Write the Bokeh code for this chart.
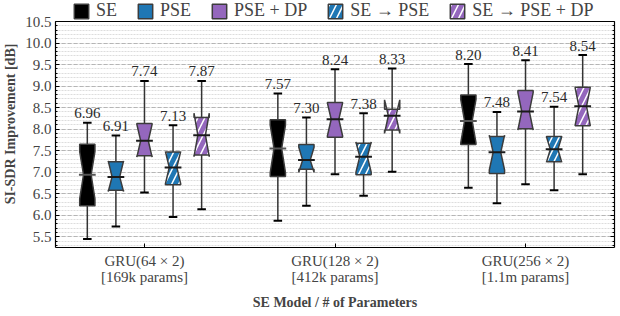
from bokeh.plotting import figure
from bokeh.models import (Range1d, FixedTicker, LinearAxis, Legend, LegendItem,
                          PrintfTickFormatter, Span)
from bokeh.core.properties import value
from bokeh.embed import file_html
from bokeh.resources import INLINE

# ---------------- data ----------------
group_labels = ["GRU(64 × 2)\n[169k params]",
                "GRU(128 × 2)\n[412k params]",
                "GRU(256 × 2)\n[1.1m params]"]
series = ["SE", "PSE", "PSE + DP", "SE → PSE", "SE → PSE + DP"]

whisker_low = {
    "SE":            [5.45, 5.87, 6.64],
    "PSE":           [5.74, 6.22, 6.28],
    "PSE + DP":      [6.53, 6.95, 6.72],
    "SE → PSE":      [5.96, 6.45, 6.58],
    "SE → PSE + DP": [6.14, 7.01, 6.95],
}
q1 = {
    "SE":            [6.22, 6.90, 7.64],
    "PSE":           [6.58, 7.07, 6.97],
    "PSE + DP":      [7.38, 7.81, 8.01],
    "SE → PSE":      [6.71, 6.94, 7.24],
    "SE → PSE + DP": [7.40, 7.98, 8.08],
}
median = {
    "SE":            [6.94, 7.55, 8.19],
    "PSE":           [6.89, 7.28, 7.46],
    "PSE + DP":      [7.73, 8.23, 8.41],
    "SE → PSE":      [7.11, 7.36, 7.53],
    "SE → PSE + DP": [7.86, 8.31, 8.53],
}
q3 = {
    "SE":            [7.65, 8.22, 8.79],
    "PSE":           [7.24, 7.64, 7.83],
    "PSE + DP":      [8.13, 8.62, 8.90],
    "SE → PSE":      [7.47, 7.67, 7.83],
    "SE → PSE + DP": [8.27, 8.46, 8.97],
}
whisker_high = {
    "SE":            [8.15, 8.83, 9.51],
    "PSE":           [7.85, 8.27, 8.40],
    "PSE + DP":      [9.12, 9.39, 9.60],
    "SE → PSE":      [8.09, 8.37, 8.52],
    "SE → PSE + DP": [9.12, 9.41, 9.72],
}
notch_low = {
    "SE":            [6.38, 6.99, 7.68],
    "PSE":           [6.55, 7.00, 7.05],
    "PSE + DP":      [7.35, 7.84, 7.98],
    "SE → PSE":      [6.73, 7.00, 7.23],
    "SE → PSE + DP": [7.36, 7.90, 8.08],
}
notch_high = {
    "SE":            [7.48, 8.09, 8.69],
    "PSE":           [7.26, 7.58, 7.86],
    "PSE + DP":      [8.11, 8.61, 8.85],
    "SE → PSE":      [7.48, 7.70, 7.82],
    "SE → PSE + DP": [8.37, 8.68, 8.97],
}
median_text = {
    "SE":            ["6.96", "7.57", "8.20"],
    "PSE":           ["6.91", "7.30", "7.48"],
    "PSE + DP":      ["7.74", "8.24", "8.41"],
    "SE → PSE":      ["7.13", "7.38", "7.54"],
    "SE → PSE + DP": ["7.87", "8.33", "8.54"],
}
y_ticks = [5.5, 6.0, 6.5, 7.0, 7.5, 8.0, 8.5, 9.0, 9.5, 10.0, 10.5]
y_minor = [round(5.3 + 0.1 * i, 1) for i in range(53)]
y_lo, y_hi = 5.25, 10.5

# ---------------- style ----------------
colors = {"SE": "black", "PSE": "#1f77b4", "PSE + DP": "#9467bd",
          "SE → PSE": "#1f77b4", "SE → PSE + DP": "#9467bd"}
hatches = {"SE": None, "PSE": None, "PSE + DP": None,
           "SE → PSE": "/", "SE → PSE + DP": "/"}
offsets = [-0.3, -0.15, 0.0, 0.15, 0.3]
box_w = 0.08
FONT = "Liberation Serif"

# plotting area 226 px tall for the data, plus 21 px headroom for the legend
DATA_H, HEAD = 226, 21
FW, FH = 559, DATA_H + HEAD
y_top = y_hi + (y_hi - y_lo) * HEAD / DATA_H

p = figure(frame_width=FW, frame_height=FH, output_backend="svg", toolbar_location=None,
           x_range=Range1d(-0.467, 2.467), y_range=Range1d(y_lo, y_top),
           min_border_left=50, min_border_right=3, min_border_top=0,
           min_border_bottom=61)
p.outline_line_color = None

# grid
p.xgrid.visible = False
p.ygrid.ticker = FixedTicker(ticks=y_ticks, minor_ticks=y_minor)
p.ygrid.grid_line_color = "#a8a8a8"
p.ygrid.grid_line_dash = "4 2"
p.ygrid.grid_line_width = 0.8
p.ygrid.minor_grid_line_color = "#d4d4d4"
p.ygrid.minor_grid_line_dash = "2 1"
p.ygrid.minor_grid_line_width = 0.8

# y axis
ya = p.yaxis[0]
ya.ticker = FixedTicker(ticks=y_ticks, minor_ticks=y_minor)
ya.bounds = (y_lo, y_hi)
ya.formatter = PrintfTickFormatter(format="%.1f")
ya.axis_label = "SI-SDR Improvement [dB]"
ya.axis_label_text_font = FONT
ya.axis_label_text_font_style = "bold"
ya.axis_label_text_font_size = "14px"
ya.axis_label_standoff = 4
ya.major_label_text_font = FONT
ya.major_label_text_font_size = "15px"
ya.major_label_standoff = 4
ya.major_tick_in = 4
ya.major_tick_out = 0
ya.minor_tick_in = 2
ya.minor_tick_out = 0
ya.axis_line_color = "black"
ya.axis_line_width = 1.2

# right mirror axis (ticks only)
ra = LinearAxis(ticker=FixedTicker(ticks=y_ticks, minor_ticks=y_minor),
                bounds=(y_lo, y_hi), major_label_standoff=0,
                major_tick_in=4, major_tick_out=0, minor_tick_in=2, minor_tick_out=0,
                axis_line_color="black", axis_line_width=1.2)
ra.major_label_overrides = {t: "" for t in y_ticks}
p.add_layout(ra, "right")

# top border of the data area
p.add_layout(Span(location=y_hi, dimension="width", line_color="black", line_width=1.2))

# x axis
xa = p.xaxis[0]
xa.ticker = FixedTicker(ticks=[0, 1, 2])
xa.major_label_overrides = {i: lab for i, lab in enumerate(group_labels)}
xa.major_label_text_font = FONT
xa.major_label_text_font_size = "15px"
xa.major_label_text_line_height = 1.0
xa.major_label_standoff = 5
xa.major_tick_in = 4
xa.major_tick_out = 0
xa.minor_tick_in = 0
xa.minor_tick_out = 0
xa.axis_line_color = "black"
xa.axis_line_width = 1.2
xa.axis_label = "SE Model / # of Parameters"
xa.axis_label_text_font = FONT
xa.axis_label_text_font_style = "bold"
xa.axis_label_text_font_size = "14px"
xa.axis_label_standoff = 7

line_col = "#333333"
legend_items = []
for si, s in enumerate(series):
    pos = [g + offsets[si] for g in range(len(group_labels))]
    # whiskers
    p.segment(x0=pos, y0=q3[s], x1=pos, y1=whisker_high[s], line_color=line_col, line_width=1.5)
    p.segment(x0=pos, y0=q1[s], x1=pos, y1=whisker_low[s], line_color=line_col, line_width=1.5)
    cap = box_w * 0.28
    p.segment(x0=[x - cap for x in pos], y0=whisker_high[s], x1=[x + cap for x in pos],
              y1=whisker_high[s], line_color="black", line_width=2)
    p.segment(x0=[x - cap for x in pos], y0=whisker_low[s], x1=[x + cap for x in pos],
              y1=whisker_low[s], line_color="black", line_width=2)
    # notched boxes
    xs, ys = [], []
    h = box_w / 2
    nh = box_w / 4
    for i, x0 in enumerate(pos):
        xs.append([x0 - h, x0 + h, x0 + h, x0 + nh, x0 + h, x0 + h,
                   x0 - h, x0 - h, x0 - nh, x0 - h, x0 - h])
        ys.append([q1[s][i], q1[s][i], notch_low[s][i], median[s][i], notch_high[s][i],
                   q3[s][i], q3[s][i], notch_high[s][i], median[s][i], notch_low[s][i], q1[s][i]])
    kw = dict(fill_color=colors[s], line_color="#3c3c3c", line_width=1.5)
    if hatches[s]:
        kw.update(hatch_pattern=hatches[s], hatch_color="white", hatch_weight=1.5,
                  hatch_scale=14)
    r = p.patches(xs=xs, ys=ys, **kw)
    legend_items.append(LegendItem(label=s, renderers=[r], index=0))
    # median line
    p.segment(x0=[x - h * 1.1 for x in pos], y0=median[s], x1=[x + h * 1.1 for x in pos],
              y1=median[s], line_color="#555555" if s == "SE" else "#1a1a1a", line_width=2)
    # median text
    p.text(x=pos, y=[v + 0.22 for v in whisker_high[s]], text=median_text[s],
           text_align="center", text_baseline="alphabetic",
           text_font=value(FONT), text_font_size="15px", text_color="#2a2a2a")

legend = Legend(items=legend_items, orientation="horizontal",
                location=(17, FH - 21),
                glyph_width=18, glyph_height=18, label_standoff=6, spacing=19,
                padding=0, margin=0, border_line_color=None, background_fill_alpha=0,
                label_text_font=FONT, label_text_font_size="18px", label_height=18)
p.add_layout(legend, "center")

open("out.html", "w").write(file_html(p, INLINE))
